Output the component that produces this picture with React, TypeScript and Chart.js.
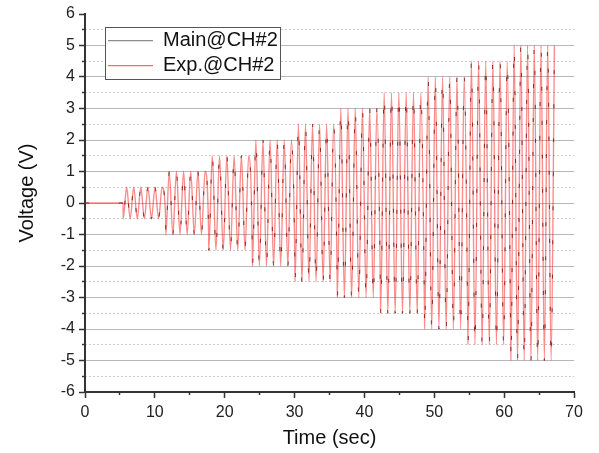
import React, { useEffect, useRef } from 'react';
import { Chart, registerables } from 'chart.js';

Chart.register(...registerables);

// ---- data ----
const segmentStarts = [5.45, 11.55, 17.7, 23.95, 30.05, 36.1, 42.3, 48.6, 54.8, 60.95];
const segmentAmplitudes = [0.5, 1, 1.5, 2, 2.5, 3, 3.5, 4, 4.5, 5];
const segmentHalfCycles = [12, 12, 12, 12, 12, 12, 12, 12, 12, 13];
const signalEnd = 67.2;

const seriesLabels = ['Main@CH#2', 'Exp.@CH#2'];
const legendColors = ['#8c8c8c', '#ff6b6b'];
const xMinorTicks = [5, 15, 25, 35, 45, 55, 65];
const yMinorTicks = [-5.5, -4.5, -3.5, -2.5, -1.5, -0.5, 0.5, 1.5, 2.5, 3.5, 4.5, 5.5];
const xTitle = 'Time (sec)';
const yTitle = 'Voltage (V)';

const FONT = "'Liberation Sans', Arial, sans-serif";

function buildTrace() {
  const pts: { x: number; y: number }[] = [
    { x: 0, y: 0 },
    { x: segmentStarts[0], y: 0 },
  ];
  for (let i = 0; i < segmentStarts.length; i++) {
    const s = segmentStarts[i];
    const e = i + 1 < segmentStarts.length ? segmentStarts[i + 1] : signalEnd;
    const a = segmentAmplitudes[i];
    const n = segmentHalfCycles[i];
    const h = (e - s) / n;
    pts.push({ x: s + 0.02, y: -a });
    for (let k = 1; k <= n; k++) {
      pts.push({ x: s + k * h, y: k % 2 ? a : -a });
    }
  }
  return pts;
}

const legendBoxPlugin = {
  id: 'legendBox',
  afterLayout(chart: any) {
    const lg = chart.legend;
    if (lg) {
      lg.left = 103;
      lg.top = 25.7;
      lg.right = 103 + 190;
      lg.bottom = 25.7 + 62;
    }
    const ys = chart.scales.y;
    if (ys && !ys.__titleShift) {
      ys.__titleShift = true;
      const orig = ys.drawTitle;
      ys.drawTitle = function (...args: any[]) {
        const t = this.top;
        const b = this.bottom;
        this.top = t - 10;
        this.bottom = b - 10;
        orig.apply(this, args);
        this.top = t;
        this.bottom = b;
      };
    }
  },
  afterDatasetsDraw(chart: any) {
    const ctx = chart.ctx;
    ctx.save();
    ctx.fillStyle = '#ffffff';
    ctx.strokeStyle = '#555555';
    ctx.lineWidth = 1;
    ctx.fillRect(105.5, 27.5, 175, 52);
    ctx.strokeRect(105.5, 27.5, 175, 52);
    ctx.restore();
    if (chart.legend) chart.legend.draw(chart.chartArea);
  },
};

export default function App() {
  const ref = useRef<HTMLCanvasElement | null>(null);

  useEffect(() => {
    if (!ref.current) return;
    const trace = buildTrace();
    const chart = new Chart(ref.current, {
      type: 'line',
      data: {
        datasets: [
          {
            label: seriesLabels[0],
            data: trace.map((p) => ({ ...p })),
            borderColor: 'rgba(60,60,60,0.95)',
            borderWidth: 1,
            borderDash: [4, 30],
            pointRadius: 0,
            cubicInterpolationMode: 'monotone',
            fill: false,
            order: 2,
            xAxisID: 'x',
            yAxisID: 'y',
          },
          {
            label: seriesLabels[1],
            data: trace.map((p) => ({ ...p })),
            borderColor: 'rgba(245,0,0,0.45)',
            borderWidth: 1.4,
            pointRadius: 0,
            cubicInterpolationMode: 'monotone',
            fill: false,
            order: 1,
            xAxisID: 'x',
            yAxisID: 'y',
          },
        ],
      },
      options: {
        responsive: false,
        animation: false,
        devicePixelRatio: 1,
        events: [],
        layout: { padding: { top: 14, right: 25, left: 0, bottom: 0 } },
        font: { family: FONT },
        scales: {
          x: {
            type: 'linear',
            position: 'bottom',
            min: 0,
            max: 70,
            weight: 1,
            ticks: { stepSize: 10, padding: 5, font: { size: 16, family: FONT }, color: '#222', maxRotation: 0 },
            grid: { drawOnChartArea: false, tickLength: 6, tickColor: '#333', tickWidth: 1.5 },
            border: { color: '#333', width: 2 },
            title: {
              display: true,
              text: xTitle,
              font: { size: 20, family: FONT },
              color: '#111',
              padding: { top: 0, bottom: 3 },
            },
            afterFit: (s: any) => {
              s.height = 61;
            },
          },
          xMinor: {
            type: 'linear',
            position: 'bottom',
            min: 0,
            max: 70,
            weight: 0,
            afterBuildTicks: (s: any) => {
              s.ticks = xMinorTicks.map((v) => ({ value: v }));
            },
            ticks: { display: false },
            grid: { drawOnChartArea: false, tickLength: 3, tickColor: '#333', tickWidth: 1.5 },
            border: { display: false },
            afterFit: (s: any) => {
              s.height = 0;
            },
          },
          y: {
            type: 'linear',
            position: 'left',
            min: -6,
            max: 6,
            weight: 1,
            ticks: { stepSize: 1, padding: 4, font: { size: 16, family: FONT }, color: '#222' },
            grid: {
              color: (c: any) =>
                c.tick && (c.tick.value === 6 || c.tick.value === -6) ? 'rgba(0,0,0,0)' : '#b8b8b8',
              lineWidth: 1,
              tickLength: 6,
              tickColor: '#333',
              tickWidth: 1.5,
            },
            border: { color: '#333', width: 2 },
            title: {
              display: true,
              text: yTitle,
              font: { size: 20, family: FONT },
              color: '#111',
              padding: { top: 15, bottom: 0 },
            },
            afterFit: (s: any) => {
              s.width = 85;
            },
          },
          yMinor: {
            type: 'linear',
            position: 'left',
            min: -6,
            max: 6,
            weight: 0,
            afterBuildTicks: (s: any) => {
              s.ticks = yMinorTicks.map((v) => ({ value: v }));
            },
            ticks: { display: false },
            grid: { color: '#cccccc', lineWidth: 1, tickLength: 3, tickColor: '#333', tickWidth: 1.5 },
            border: { display: false, dash: [2, 2] },
            afterFit: (s: any) => {
              s.width = 0;
            },
          },
        },
        plugins: {
          tooltip: { enabled: false },
          legend: {
            display: true,
            position: 'chartArea',
            align: 'start',
            labels: {
              usePointStyle: true,
              pointStyle: 'line',
              pointStyleWidth: 45,
              padding: 5,
              font: { size: 20, family: FONT },
              color: '#111',
              sort: (a: any, b: any) => a.datasetIndex - b.datasetIndex,
              generateLabels: (c: any) => {
                const items = (Chart as any).defaults.plugins.legend.labels.generateLabels(c);
                return items.map((it: any) => ({
                  ...it,
                  strokeStyle: legendColors[it.datasetIndex],
                  fillStyle: legendColors[it.datasetIndex],
                  lineDash: [],
                  lineWidth: 1.2,
                  pointStyle: 'line',
                }));
              },
            },
          },
        },
      } as any,
      plugins: [legendBoxPlugin],
    });
    return () => chart.destroy();
  }, []);

  return (
    <div style={{ position: 'absolute', left: 0, top: 0, width: 599, height: 453, background: '#fff' }}>
      <canvas ref={ref} width={599} height={453} style={{ display: 'block' }} />
    </div>
  );
}
